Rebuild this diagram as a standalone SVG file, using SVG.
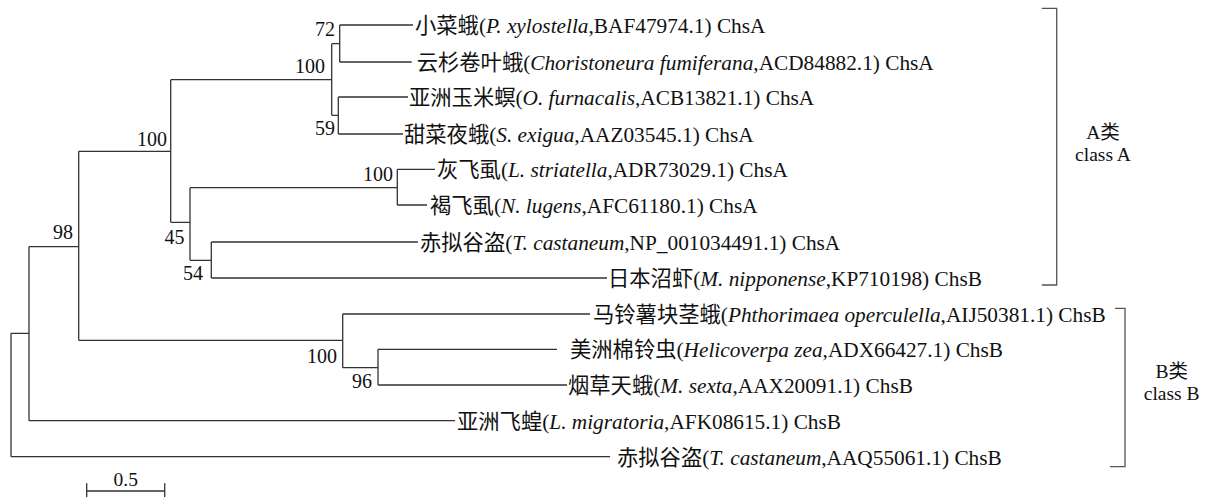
<svg xmlns="http://www.w3.org/2000/svg" width="1207" height="497" viewBox="0 0 1207 497">
<style>
.br{fill:none;stroke:#333;stroke-width:1.3}
.bk{fill:none;stroke:#555;stroke-width:1.3}
.lf{font-family:"Liberation Serif","Noto Sans CJK SC",serif;font-size:21.3px;fill:#111}
.bs{font-family:"Liberation Serif",serif;font-size:20px;fill:#111;text-anchor:end}
.cl{font-family:"Liberation Serif","Noto Sans CJK SC",serif;font-size:19.5px;fill:#111;text-anchor:middle}
.it{font-style:italic}
</style>
<rect width="1207" height="497" fill="#fff"/>
<g id="connectors" class="br">
<path d="M11,333.3V456.7M11,333.3H29M11,456.7H610"/>
<path d="M29,246.7V420.7M29,246.7H78.7M29,420.7H455"/>
<path d="M78.7,151.3V340.3M78.7,151.3H170.7M78.7,340.3H342.7"/>
<path d="M170.7,79.7V222.3M170.7,79.7H331.7M170.7,222.3H190"/>
<path d="M331.7,43.7V115.3M331.7,43.7H339.7M331.7,115.3H338.3"/>
<path d="M339.7,25V62M339.7,25H413M339.7,62H411.7"/>
<path d="M338.3,97V134M338.3,97H408M338.3,134H403"/>
<path d="M190,187.7V260.3M190,187.7H397.3M190,260.3H211.3"/>
<path d="M397.3,169.3V205M397.3,169.3H435M397.3,205H427"/>
<path d="M211.3,242V278M211.3,242H418M211.3,278H607"/>
<path d="M342.7,314V367.7M342.7,314H590M342.7,367.7H378"/>
<path d="M378,349.3V385M378,349.3H557M378,385H567"/>
</g>
<g id="support">
<text class="bs" x="335" y="36">72</text>
<text class="bs" x="325" y="73">100</text>
<text class="bs" x="335" y="135">59</text>
<text class="bs" x="167" y="145.5">100</text>
<text class="bs" x="393" y="181">100</text>
<text class="bs" x="73" y="239">98</text>
<text class="bs" x="184.5" y="244">45</text>
<text class="bs" x="203" y="280">54</text>
<text class="bs" x="337" y="363">100</text>
<text class="bs" x="372" y="388">96</text>
</g>
<g id="leaf1"><text class="lf" x="415" y="33">小菜蛾(<tspan class="it">P. xylostella</tspan>,BAF47974.1) ChsA</text></g>
<g id="leaf2"><text class="lf" x="416.7" y="70">云杉卷叶蛾(<tspan class="it">Choristoneura fumiferana</tspan>,ACD84882.1) ChsA</text></g>
<g id="leaf3"><text class="lf" x="409" y="105">亚洲玉米螟(<tspan class="it">O. furnacalis</tspan>,ACB13821.1) ChsA</text></g>
<g id="leaf4"><text class="lf" x="404" y="142">甜菜夜蛾(<tspan class="it">S. exigua</tspan>,AAZ03545.1) ChsA</text></g>
<g id="leaf5"><text class="lf" x="437" y="177">灰飞虱(<tspan class="it">L. striatella</tspan>,ADR73029.1) ChsA</text></g>
<g id="leaf6"><text class="lf" x="430" y="213">褐飞虱(<tspan class="it">N. lugens</tspan>,AFC61180.1) ChsA</text></g>
<g id="leaf7"><text class="lf" x="420" y="250">赤拟谷盗(<tspan class="it">T. castaneum</tspan>,NP_001034491.1) ChsA</text></g>
<g id="leaf8"><text class="lf" x="608" y="286">日本沼虾(<tspan class="it">M. nipponense</tspan>,KP710198) ChsB</text></g>
<g id="leaf9"><text class="lf" x="593" y="322">马铃薯块茎蛾(<tspan class="it">Phthorimaea operculella</tspan>,AIJ50381.1) ChsB</text></g>
<g id="leaf10"><text class="lf" x="570" y="357">美洲棉铃虫(<tspan class="it">Helicoverpa zea</tspan>,ADX66427.1) ChsB</text></g>
<g id="leaf11"><text class="lf" x="568" y="393">烟草天蛾(<tspan class="it">M. sexta</tspan>,AAX20091.1) ChsB</text></g>
<g id="leaf12"><text class="lf" x="457" y="429">亚洲飞蝗(<tspan class="it">L. migratoria</tspan>,AFK08615.1) ChsB</text></g>
<g id="leaf13"><text class="lf" x="617" y="465">赤拟谷盗(<tspan class="it">T. castaneum</tspan>,AAQ55061.1) ChsB</text></g>
<g id="classA">
<path class="bk" d="M1041.7,8.3H1056.7V285H1041.7"/>
<text class="cl" x="1103" y="139">A类</text>
<text class="cl" x="1103" y="161">class A</text>
</g>
<g id="classB">
<path class="bk" d="M1115,308.3H1125V466.7H1110"/>
<text class="cl" x="1171.7" y="378">B类</text>
<text class="cl" x="1171.7" y="400">class B</text>
</g>
<g id="scale">
<path class="br" d="M86.7,491H164.7M86.7,483.3V497M164.7,483.3V497"/>
<text class="cl" x="125.7" y="485.5">0.5</text>
</g>
</svg>
